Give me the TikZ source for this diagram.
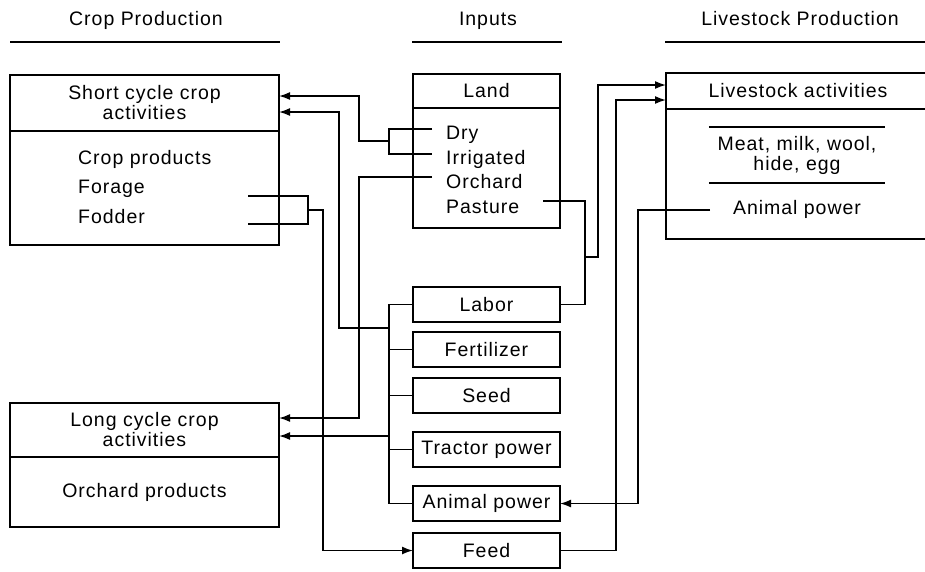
\documentclass[tikz,border=0pt]{standalone}
\usepackage{fontspec}
\setmainfont{Liberation Sans}[LetterSpace=5]
\usepackage{tikz}
\usetikzlibrary{arrows.meta,positioning,calc}
\newcommand{\farmfont}{\fontsize{19.5}{20}\selectfont}
\tikzset{
  fbox/.style={draw,line width=2pt,inner sep=0pt,outer sep=0pt,
    align=center,font=\farmfont},
  cropbox/.style={fbox,minimum width=269pt},
  landbox/.style={fbox,minimum width=147pt},
  inbox/.style={fbox,minimum width=147pt,minimum height=35pt},
  lbl/.style={inner sep=0pt,align=center,font=\farmfont},
  hrule/.style={line width=2pt},
  wire/.style={line width=1.6pt},
  flow/.style={wire,-{Latex[length=11pt,width=8pt]}},
}

\begin{document}
\begin{tikzpicture}[x=1pt,y=-1pt]
\path[use as bounding box,clip] (0,0) rectangle (925,571);
% Headings
\node[lbl,anchor=base] (hcrop) at (146,25) {Crop Production};
\node[lbl,anchor=base] (hinput) at (488,25) {Inputs};
\node[lbl,anchor=base] (hlive) at (800,25) {Livestock Production};
\draw[hrule] (10,42) -- (280,42);
\draw[hrule] (412,42) -- (562,42);
\draw[hrule] (665,42) -- (930,42);
% Crop production: short and long cycle activities
\node[cropbox,minimum height=56pt,anchor=north west] (short) at (10,75)
  {Short cycle crop\\activities};
\node[cropbox,minimum height=114pt,below=0pt of short] (shortbody) {};
\node[lbl,anchor=base west] (cprod) at (78,164) {Crop products};
\node[lbl,anchor=base west] (forage) at (78,193) {Forage};
\node[lbl,anchor=base west] (fodder) at (78,223) {Fodder};
\node[cropbox,minimum height=54pt,anchor=north west] (long) at (10,403)
  {Long cycle crop\\activities};
\node[cropbox,minimum height=70pt,below=0pt of long] (longbody)
  {Orchard products};
% Inputs: land and the column below it
\node[landbox,minimum height=34pt,anchor=north west] (land) at (413,74) {Land};
\node[landbox,minimum height=120pt,below=0pt of land] (landbody) {};
\node[lbl,anchor=base west] (dry) at (446,139) {Dry};
\node[lbl,anchor=base west] (irr) at (446,164) {Irrigated};
\node[lbl,anchor=base west] (orch) at (446,188) {Orchard};
\node[lbl,anchor=base west] (past) at (446,213) {Pasture};
\node[inbox,anchor=north west] (labor) at (413,287) {Labor};
\node[inbox,below=10pt of labor] (fert) {Fertilizer};
\node[inbox,below=11pt of fert] (seed) {Seed};
\node[inbox,below=19pt of seed] (tractor) {Tractor power};
\node[inbox,below=19pt of tractor] (apower) {Animal power};
\node[inbox,below=12pt of apower] (feed) {Feed};
% Livestock production
\node[fbox,minimum width=264pt,minimum height=36pt,anchor=north west] (live)
  at (666,73) {Livestock activities};
\node[fbox,minimum width=264pt,minimum height=130pt,below=0pt of live] (livebody) {};
\node[lbl,minimum width=176pt,minimum height=56pt,anchor=north] (meat) at (797,127)
  {Meat, milk, wool,\\hide, egg};
\draw[hrule] (meat.north west) -- (meat.north east);
\draw[hrule] (meat.south west) -- (meat.south east);
\node[lbl] (lpower) at (797,209) {Animal power};
% Free ends and junctions
\coordinate (dryend) at (432,129);
\coordinate (irrend) at (432,154);
\coordinate (orchend) at (432,177);
\coordinate (pastend) at (543,201);
\coordinate (forend) at (248,196);
\coordinate (fodend) at (248,224);
\coordinate (lpend) at (710,210);
\coordinate (landjoin) at (389,141);
\coordinate (cropjoin) at (308,210);
\coordinate (laborjoin) at (585,257);
\coordinate (bus) at (389,0);
% Land to crop activities
\draw[wire] (dryend) -- ++(-43,0) |- (irrend);
\draw[flow] (landjoin) -| ([xshift=80pt,yshift=7pt]short.east) -- ([yshift=7pt]short.east);
\draw[flow] (orchend) -| ([xshift=80pt,yshift=12pt]long.east) -- ([yshift=12pt]long.east);
% Forage and fodder to feed
\draw[wire] (forend) -- ++(60,0) |- (fodend);
\draw[flow] (cropjoin) -| ([xshift=-90pt]feed.west) -- (feed.west);
% Input bus to crop activities
\draw[wire] (labor.west) -| (bus |- apower.west) -- (apower.west);
\foreach \n in {fert,seed,tractor}
  \draw[wire] (\n.west) -- (bus |- \n.west);
\draw[flow] (bus |- 0,328) -| ([xshift=60pt,yshift=-9pt]short.east) -- ([yshift=-9pt]short.east);
\draw[flow] (bus |- 0,436) -- ([yshift=-6pt]long.east);
% Inputs to and from livestock
\draw[wire] (pastend) -| ([xshift=25pt]labor.east) -- (labor.east);
\draw[flow] (laborjoin) -| ([xshift=-68pt,yshift=6pt]live.west) -- ([yshift=6pt]live.west);
\draw[flow] (feed.east) -| ([xshift=-50pt,yshift=-9pt]live.west) -- ([yshift=-9pt]live.west);
\draw[flow] (lpend) -| ([xshift=78pt]apower.east) -- (apower.east);
\end{tikzpicture}
\end{document}
